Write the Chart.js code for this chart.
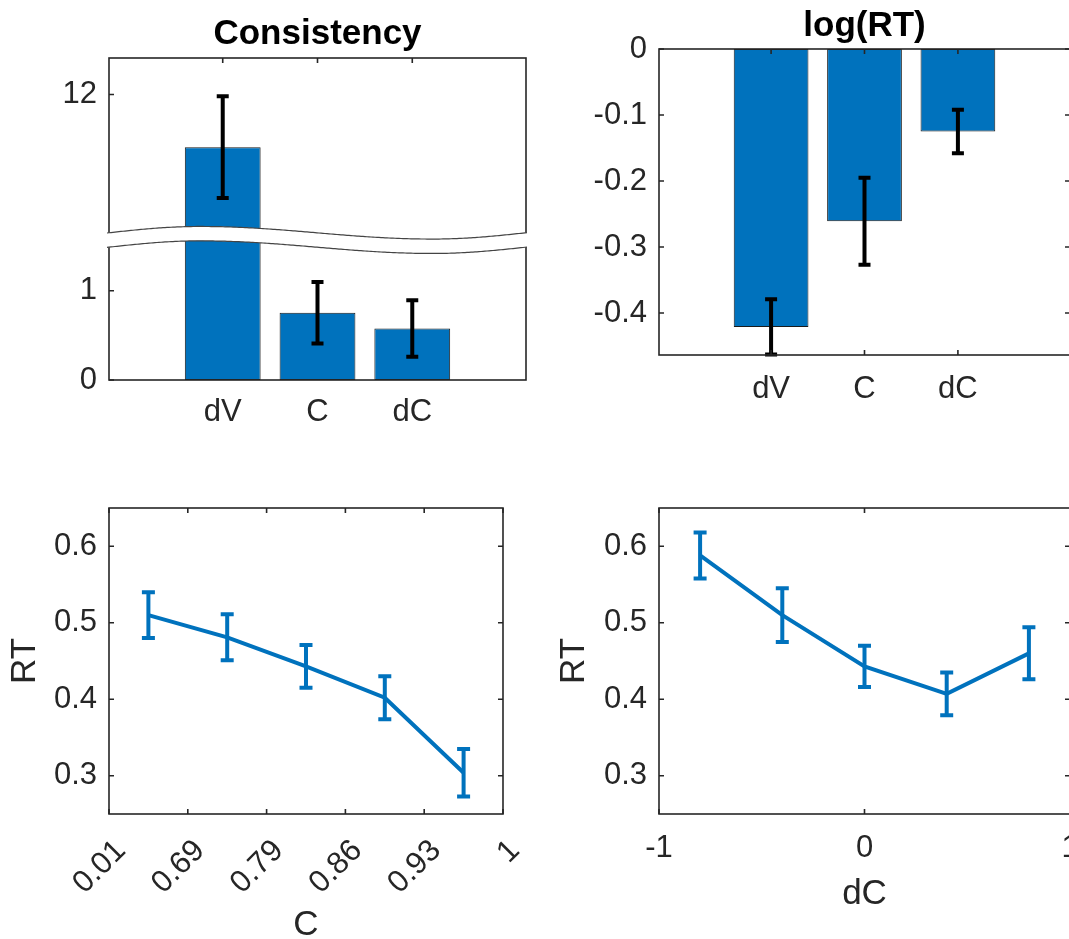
<!DOCTYPE html>
<html>
<head>
<meta charset="utf-8">
<script src="https://cdn.jsdelivr.net/npm/chart.js@4.4.0/dist/chart.umd.min.js"></script>
<style>
  html, body { margin: 0; padding: 0; background: #fff; overflow: hidden; }
  body { width: 1069px; height: 939px; position: relative; }
  canvas { position: absolute; }
</style>
</head>
<body>
<canvas id="chart1" width="540" height="440" style="left:0;top:0"></canvas>
<canvas id="chart2" width="560" height="440" style="left:540px;top:0"></canvas>
<canvas id="chart3" width="540" height="500" style="left:0;top:460px"></canvas>
<canvas id="chart4" width="560" height="500" style="left:540px;top:460px"></canvas>
<script>
// data
const barLabels = ['dV', 'C', 'dC'];
const barPos = [1, 2, 3];
const consistMean = [11.41, 0.754, 0.578];
const consistErr = [0.57, 0.345, 0.317];
const consistTicks = [0, 1, 12];
const logRtMean = [-0.421, -0.261, -0.125];
const logRtErr = [0.042, 0.066, 0.033];
const logRtTicks = [-0.4, -0.3, -0.2, -0.1, 0];
const cEdgeLabels = ['0.01', '0.69', '0.79', '0.86', '0.93', '1'];
const cEdgePos = [0, 1, 2, 3, 4, 5];
const cBinPos = [0.5, 1.5, 2.5, 3.5, 4.5];
const rtByC = [0.510, 0.481, 0.443, 0.402, 0.304];
const rtByCErr = [0.030, 0.030, 0.028, 0.028, 0.031];
const dcBins = [-0.8, -0.4, 0, 0.4, 0.8];
const dcTicks = [-1, 0, 1];
const rtByDc = [0.588, 0.510, 0.443, 0.407, 0.460];
const rtByDcErr = [0.030, 0.035, 0.027, 0.028, 0.034];
const rtTicks = [0.3, 0.4, 0.5, 0.6];

// broken y axis on the consistency panel
const breakLo = 1.6, breakHi = 10.4;
const gap = breakHi - breakLo;
const squash = v => v > breakHi ? v - gap : v;
const unsquash = v => v > breakLo ? v + gap : v;

const INK = '#262626';
const BLUE = '#0072BD';
Chart.defaults.font.family = "'Liberation Sans', Arial, Helvetica, sans-serif";
Chart.defaults.color = INK;
Chart.defaults.animation = false;

// error bars, matlab style box with inward ticks, and the axis-break band
const matlabAxes = {
  id: 'matlabAxes',
  afterDatasetsDraw(chart, args, opts) {
    const ctx = chart.ctx;
    const {left, right, top, bottom} = chart.chartArea;
    const xs = chart.scales.x, ys = chart.scales.y;

    chart.data.datasets.forEach((ds, di) => {
      if (!ds.errors) return;
      const meta = chart.getDatasetMeta(di);
      ctx.save();
      ctx.strokeStyle = ds.errColor;
      ctx.lineWidth = ds.errWidth;
      meta.data.forEach((el, i) => {
        const v = ds.data[i].y;
        const yHi = ys.getPixelForValue(v + ds.errors[i]);
        const yLo = ys.getPixelForValue(v - ds.errors[i]);
        const x = el.x, c = ds.capHalf;
        ctx.beginPath();
        ctx.moveTo(x, yHi); ctx.lineTo(x, yLo);
        ctx.moveTo(x - c, yHi); ctx.lineTo(x + c, yHi);
        ctx.moveTo(x - c, yLo); ctx.lineTo(x + c, yLo);
        ctx.stroke();
      });
      ctx.restore();
    });

    ctx.save();
    ctx.strokeStyle = INK;
    ctx.lineWidth = 1.6;
    ctx.strokeRect(left, top, right - left, bottom - top);
    const tl = 5;
    ctx.beginPath();
    xs.ticks.forEach(t => {
      const px = xs.getPixelForValue(t.value);
      ctx.moveTo(px, top); ctx.lineTo(px, top + tl);
      if (opts.bottomTicks !== false) { ctx.moveTo(px, bottom); ctx.lineTo(px, bottom - tl); }
    });
    ys.ticks.forEach(t => {
      const py = ys.getPixelForValue(t.value);
      ctx.moveTo(left, py); ctx.lineTo(left + tl, py);
      if (opts.rightTicks !== false) { ctx.moveTo(right, py); ctx.lineTo(right - tl, py); }
    });
    ctx.stroke();
    ctx.restore();

    if (opts.band !== undefined) {
      const yc = ys.getPixelForValue(opts.band);
      const w = right - left;
      const wave = x => {
        const f = (x - left) / w;
        if (f < 0.218) return -Math.sin(Math.PI / 2 * f / 0.218);
        if (f < 0.777) return -Math.cos(Math.PI * (f - 0.218) / 0.559);
        return Math.cos(Math.PI / 2 * (f - 0.777) / 0.223);
      };
      const amp = 6.3, half = 7.2;
      const xsPts = [];
      for (let x = left - 2; x <= right + 2; x += 2) xsPts.push(x);
      ctx.save();
      ctx.fillStyle = '#fff';
      ctx.beginPath();
      xsPts.forEach((x, i) => {
        const y = yc - half + amp * wave(x);
        i ? ctx.lineTo(x, y) : ctx.moveTo(x, y);
      });
      xsPts.slice().reverse().forEach(x => ctx.lineTo(x, yc + half + amp * wave(x)));
      ctx.closePath();
      ctx.fill();
      ctx.strokeStyle = '#444';
      ctx.lineWidth = 1.2;
      [-half, half].forEach(off => {
        ctx.beginPath();
        xsPts.forEach((x, i) => {
          const y = yc + off + amp * wave(x);
          i ? ctx.lineTo(x, y) : ctx.moveTo(x, y);
        });
        ctx.stroke();
      });
      ctx.restore();
    }
  }
};

const tickFont = {size: 31};
const labelFont = {size: 35};
const titleFont = {size: 35, weight: 'bold'};

function xAxis(min, max, ticks, labelOf, height, pad, extra) {
  return Object.assign({
    type: 'linear', min: min, max: max, offset: false,
    grid: {display: false}, border: {display: false},
    afterBuildTicks: s => { s.ticks = ticks.map(v => ({value: v})); },
    afterFit: s => { s.height = height; },
    ticks: {font: tickFont, color: INK, padding: pad, autoSkip: false,
            maxRotation: 0, minRotation: 0, callback: labelOf}
  }, extra || {});
}

function yAxis(min, max, ticks, labelOf, width, extra) {
  return Object.assign({
    type: 'linear', min: min, max: max,
    grid: {display: false}, border: {display: false},
    afterBuildTicks: s => { s.ticks = ticks.map(v => ({value: v})); },
    afterFit: s => { s.width = width; },
    ticks: {font: tickFont, color: INK, padding: 4, callback: labelOf}
  }, extra || {});
}

const barLabelOf = v => barLabels[barPos.indexOf(v)];

// Consistency
new Chart(document.getElementById('chart1'), {
  type: 'bar',
  data: {
    datasets: [{
      data: barPos.map((x, i) => ({x: x, y: squash(consistMean[i])})),
      backgroundColor: BLUE, borderColor: '#1a1a1a', borderWidth: 1, borderSkipped: false,
      barPercentage: 0.8, categoryPercentage: 1,
      errors: consistErr, errColor: '#000', errWidth: 4, capHalf: 6
    }]
  },
  options: {
    responsive: false,
    layout: {autoPadding: false, padding: {top: 0, right: 14, left: 0, bottom: 0}},
    scales: {
      x: xAxis(-0.2, 4.2, barPos, barLabelOf, 60, 6.3),
      y: yAxis(0, squash(12.41), consistTicks.map(squash),
               v => String(Math.round(unsquash(v))), 109)
    },
    plugins: {
      legend: {display: false}, tooltip: {enabled: false},
      title: {display: true, text: 'Consistency', color: '#000', fullSize: false,
              font: titleFont, padding: {top: 13.6, bottom: 2.4}},
      matlabAxes: {bottomTicks: false, rightTicks: false, band: 1.57}
    }
  },
  plugins: [matlabAxes]
});

// log(RT)
new Chart(document.getElementById('chart2'), {
  type: 'bar',
  data: {
    datasets: [{
      data: barPos.map((x, i) => ({x: x, y: logRtMean[i]})),
      backgroundColor: BLUE, borderColor: '#1a1a1a', borderWidth: 1, borderSkipped: false,
      barPercentage: 0.8, categoryPercentage: 1,
      errors: logRtErr, errColor: '#000', errWidth: 4, capHalf: 6
    }]
  },
  options: {
    responsive: false,
    layout: {autoPadding: false, padding: {top: 0, right: 30, left: 0, bottom: 0}},
    scales: {
      x: xAxis(-0.2, 4.2, barPos, barLabelOf, 85, 8.3),
      y: yAxis(-0.4636, 0, logRtTicks, v => v === 0 ? '0' : v.toFixed(1), 119)
    },
    plugins: {
      legend: {display: false}, tooltip: {enabled: false},
      title: {display: true, text: 'log(RT)', color: '#000', fullSize: false,
              font: titleFont, padding: {top: 4.9, bottom: 2.1}},
      matlabAxes: {}
    }
  },
  plugins: [matlabAxes]
});

// RT by C
new Chart(document.getElementById('chart3'), {
  type: 'line',
  data: {
    datasets: [{
      data: cBinPos.map((x, i) => ({x: x, y: rtByC[i]})),
      borderColor: BLUE, borderWidth: 4, pointRadius: 0, tension: 0,
      errors: rtByCErr, errColor: BLUE, errWidth: 4, capHalf: 6.5
    }]
  },
  options: {
    responsive: false,
    layout: {autoPadding: false, padding: {top: 48, right: 20, left: 0, bottom: 0}},
    scales: {
      x: xAxis(0, 5, cEdgePos, v => cEdgeLabels[cEdgePos.indexOf(v)], 146, 10.7, {
        title: {display: true, text: 'C', color: INK, font: labelFont, padding: {top: 0, bottom: 13.4}}
      }),
      y: yAxis(0.25, 0.65, rtTicks, v => v.toFixed(1), 109, {
        title: {display: true, text: 'RT', color: INK, font: labelFont, padding: {top: 4.0, bottom: 0}}
      })
    },
    plugins: {legend: {display: false}, tooltip: {enabled: false}, matlabAxes: {}}
  },
  plugins: [matlabAxes]
});
const c3 = Chart.getChart('chart3');
c3.options.scales.x.ticks.minRotation = 45;
c3.options.scales.x.ticks.maxRotation = 45;
c3.options.scales.x.ticks.labelOffset = 12;
c3.update();

// RT by dC
new Chart(document.getElementById('chart4'), {
  type: 'line',
  data: {
    datasets: [{
      data: dcBins.map((x, i) => ({x: x, y: rtByDc[i]})),
      borderColor: BLUE, borderWidth: 4, pointRadius: 0, tension: 0,
      errors: rtByDcErr, errColor: BLUE, errWidth: 4, capHalf: 6.5
    }]
  },
  options: {
    responsive: false,
    layout: {autoPadding: false, padding: {top: 48, right: 30, left: 0, bottom: 0}},
    scales: {
      x: xAxis(-1, 1, dcTicks, v => String(v), 146, 8.3, {
        title: {display: true, text: 'dC', color: INK, font: labelFont, padding: {top: 0, bottom: 44.4}}
      }),
      y: yAxis(0.25, 0.65, rtTicks, v => v.toFixed(1), 119, {
        title: {display: true, text: 'RT', color: INK, font: labelFont, padding: {top: 13.0, bottom: 0}}
      })
    },
    plugins: {legend: {display: false}, tooltip: {enabled: false}, matlabAxes: {}}
  },
  plugins: [matlabAxes]
});
</script>
</body>
</html>
